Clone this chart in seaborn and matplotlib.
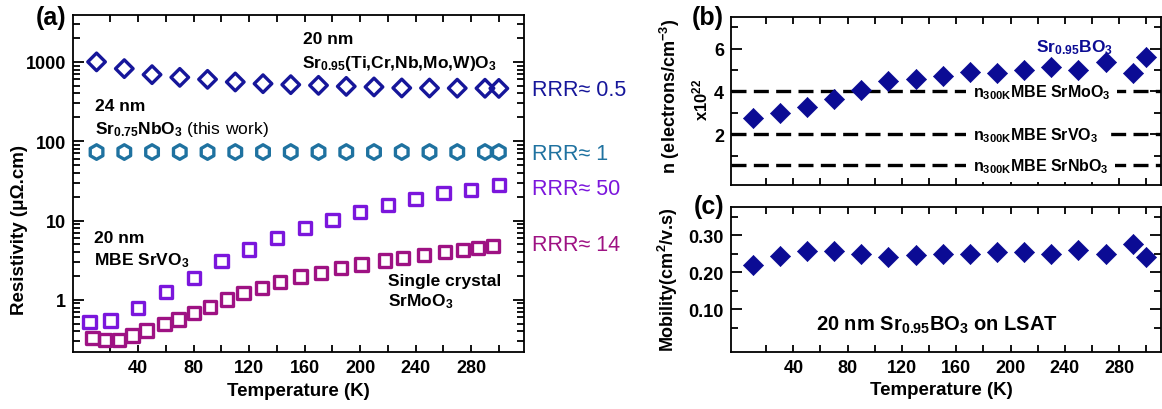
import numpy as np
import pandas as pd
import matplotlib
matplotlib.use('Agg')
from matplotlib import pyplot as plt
from matplotlib.ticker import FixedLocator, FuncFormatter
import seaborn as sns

# ---- data ----
T_main = [10, 30, 50, 70, 90, 110, 130, 150, 170, 190, 210, 230, 250, 270, 290, 300]
rho_sr095 = [1000, 822, 690, 638, 602, 558, 531, 516, 506, 491, 483, 469, 468, 466, 465, 463]
rho_sr075 = [73, 73, 73, 73, 73, 73, 73, 73, 73, 73, 73, 73, 73, 73, 73, 73]

T_svo = [5, 20, 40, 60, 80, 100, 120, 140, 160, 180, 200, 220, 240, 260, 280, 300]
rho_svo = [0.53, 0.55, 0.79, 1.25, 1.89, 3.08, 4.3, 6.05, 8.1, 10.2, 12.8, 15.8, 18.8, 22.2, 24.4, 28.2]

T_smo = [7, 16, 26, 36, 46, 59, 69, 80, 92, 104, 116, 129, 142, 157, 172, 186,
         201, 218, 231, 246, 261, 274, 285, 296]
rho_smo = [0.33, 0.31, 0.31, 0.355, 0.41, 0.50, 0.565, 0.68, 0.82, 1.01, 1.21, 1.40,
           1.67, 1.97, 2.19, 2.51, 2.79, 3.13, 3.36, 3.69, 3.99, 4.27, 4.53, 4.75]

n_carriers = [2.78, 3.01, 3.29, 3.66, 4.06, 4.48, 4.59, 4.74, 4.90, 4.87, 4.98, 5.13, 4.98, 5.36, 4.84, 5.61]
mobility = [0.219, 0.244, 0.257, 0.256, 0.249, 0.240, 0.247, 0.249, 0.249, 0.255, 0.253, 0.250,
            0.260, 0.249, 0.276, 0.240]

ref_n = [4.0, 2.0, 0.55]
ref_labels = ['n$_{300K}$MBE SrMoO$_3$', 'n$_{300K}$MBE SrVO$_3$', 'n$_{300K}$MBE SrNbO$_3$']

rrr_labels = ['RRR≈ 0.5', 'RRR≈ 1', 'RRR≈ 50', 'RRR≈ 14']

c_navy = '#16169a'
c_teal = '#1f72a0'
c_purple = '#7b16dc'
c_mag = '#9e1283'
c_fill = '#0b0b94'

sns.set_style('ticks')
plt.rcParams['font.family'] = ['Liberation Sans', 'DejaVu Sans']
plt.rcParams['font.weight'] = 'bold'
plt.rcParams['mathtext.fontset'] = 'custom'
plt.rcParams['mathtext.rm'] = 'Liberation Sans:weight=normal'
plt.rcParams['mathtext.bf'] = 'Liberation Sans:bold'
plt.rcParams['mathtext.default'] = 'bf'
for k in ['text.color', 'axes.labelcolor', 'xtick.color', 'ytick.color', 'axes.edgecolor']:
    plt.rcParams[k] = 'black'

fig = plt.figure(figsize=(11.62, 4.10), dpi=100)
ax_a = fig.add_axes([0.0628, 0.139, 0.388, 0.822])
ax_b = fig.add_axes([0.629, 0.547, 0.3703, 0.408])
ax_c = fig.add_axes([0.629, 0.138, 0.3703, 0.354])


def style(ax):
    for s in ax.spines.values():
        s.set_linewidth(1.3)
        s.set_color('black')
    ax.tick_params(which='both', direction='in', top=True, right=True,
                   width=1.3, labelsize=13, pad=5, colors='black')
    ax.tick_params(which='major', length=8)
    ax.tick_params(which='minor', length=5)
    for lab in ax.get_xticklabels() + ax.get_yticklabels():
        lab.set_fontweight('bold')


# ---- panel (a) ----
open_kw = dict(facecolor='none', linewidth=2.4, ax=ax_a, legend=False, zorder=3)
sns.scatterplot(x=T_main, y=rho_sr095, marker='D', s=80, edgecolor=c_navy, **open_kw)
sns.scatterplot(x=T_main, y=rho_sr075, marker='h', s=110, edgecolor=c_teal, **open_kw)
sns.scatterplot(x=T_svo, y=rho_svo, marker='s', s=78, edgecolor=c_purple, **open_kw)
sns.scatterplot(x=T_smo, y=rho_smo, marker='s', s=78, edgecolor=c_mag, **open_kw)

ax_a.set_yscale('log')
ax_a.set_ylim(0.22, 3900)
ax_a.set_xlim(-7, 318)
ax_a.xaxis.set_major_locator(FixedLocator(range(40, 281, 40)))
ax_a.xaxis.set_minor_locator(FixedLocator(range(20, 301, 40)))
ax_a.yaxis.set_major_formatter(FuncFormatter(lambda v, _: f'{v:g}'))
style(ax_a)
ax_a.tick_params(axis='x', which='major', length=5)
ax_a.set_xlabel('Temperature (K)', fontsize=13.5, fontweight='bold')
ax_a.set_ylabel('Resistivity (μΩ.cm)', fontsize=13.5, fontweight='bold')
ax_a.xaxis.set_label_coords(0.5, -0.09)
ax_a.xaxis.label.set_va('top')
ax_a.yaxis.set_label_coords(-0.1, 0.365)

ann = dict(transform=ax_a.transAxes, fontsize=12.5, fontweight='bold', va='center', ha='left')
ax_a.text(0.510, 0.929, '20 nm', **ann)
ax_a.text(0.508, 0.860, 'Sr$_{0.95}$(Ti,Cr,Nb,Mo,W)O$_3$', **ann)
ax_a.text(0.049, 0.730, '24 nm', **ann)
ax_a.text(0.049, 0.662, 'Sr$_{0.75}$NbO$_3$ $\\mathrm{(this\\ work)}$', **ann)
ax_a.text(0.047, 0.341, '20 nm', **ann)
ax_a.text(0.047, 0.273, 'MBE SrVO$_3$', **ann)
ax_a.text(0.698, 0.211, 'Single crystal', **ann)
ax_a.text(0.698, 0.151, 'SrMoO$_3$', **ann)

rrr_y = [0.780, 0.588, 0.484, 0.320]
rrr_c = [c_navy, c_teal, c_purple, c_mag]
for lab, yy, cc in zip(rrr_labels, rrr_y, rrr_c):
    ax_a.text(1.018, yy, lab, transform=ax_a.transAxes, fontsize=15.5,
              fontweight='normal', color=cc, va='center', ha='left')

# ---- panel (b) ----
sns.scatterplot(x=T_main, y=n_carriers, marker='D', s=105, color=c_fill,
                edgecolor=c_fill, linewidth=0.5, ax=ax_b, legend=False, zorder=3)
for yv, lab in zip(ref_n, ref_labels):
    ax_b.axhline(yv, color='black', lw=2.4, ls=(0, (4.5, 2.2)), zorder=1)
    ax_b.text(172, yv, lab, fontsize=11.5, fontweight='bold', ha='left', va='center',
              bbox=dict(fc='white', ec='none', pad=5), zorder=2)
ax_b.set_xlim(-6, 311)
ax_b.set_ylim(-0.35, 7.45)
ax_b.xaxis.set_major_locator(FixedLocator(range(20, 301, 20)))
ax_b.yaxis.set_major_locator(FixedLocator([2, 4, 6]))
ax_b.yaxis.set_minor_locator(FixedLocator([1, 3, 5, 7]))
ax_b.set_xticklabels([])
style(ax_b)
ax_b.tick_params(axis='x', which='major', length=5)
ax_b.set_ylabel('n (electrons/cm$^{-3}$)', fontsize=13, fontweight='bold')
ax_b.yaxis.set_label_coords(-0.113, 0.536)
ax_b.text(-0.071, 0.512, 'x10$^{22}$', transform=ax_b.transAxes, rotation=90,
          fontsize=12, fontweight='bold', ha='center', va='center')
ax_b.text(247, 6.1, 'Sr$_{0.95}$BO$_3$', color=c_fill, fontsize=12.5,
          fontweight='bold', ha='center', va='center')

# ---- panel (c) ----
sns.scatterplot(x=T_main, y=mobility, marker='D', s=105, color=c_fill,
                edgecolor=c_fill, linewidth=0.5, ax=ax_c, legend=False, zorder=3)
ax_c.set_xlim(-6, 311)
ax_c.set_ylim(-0.017, 0.375)
ax_c.xaxis.set_major_locator(FixedLocator(range(40, 281, 40)))
ax_c.xaxis.set_minor_locator(FixedLocator(range(20, 301, 40)))
ax_c.yaxis.set_major_locator(FixedLocator([0.10, 0.20, 0.30]))
ax_c.yaxis.set_minor_locator(FixedLocator([0.05, 0.15, 0.25, 0.35]))
ax_c.yaxis.set_major_formatter(FuncFormatter(lambda v, _: f'{v:.2f}'))
style(ax_c)
ax_c.tick_params(axis='x', which='major', length=5)
ax_c.set_xlabel('Temperature (K)', fontsize=13.5, fontweight='bold')
ax_c.xaxis.set_label_coords(0.49, -0.195)
ax_c.xaxis.label.set_va('top')
ax_c.set_ylabel('Mobility(cm$^2$/v.s)', fontsize=13, fontweight='bold')
ax_c.yaxis.set_label_coords(-0.118, 0.505)
ax_c.text(146, 0.059, '20 nm Sr$_{0.95}$BO$_3$ on LSAT', fontsize=14.5,
          fontweight='bold', ha='center', va='center')

# panel letters
for px, py, lab in [(51, 18, '(a)'), (708, 18, '(b)'), (709, 207, '(c)')]:
    fig.text(px / 1162, 1 - py / 410, lab, fontsize=18, fontweight='bold',
             ha='center', va='center')

fig.savefig('out.png', dpi=100)
